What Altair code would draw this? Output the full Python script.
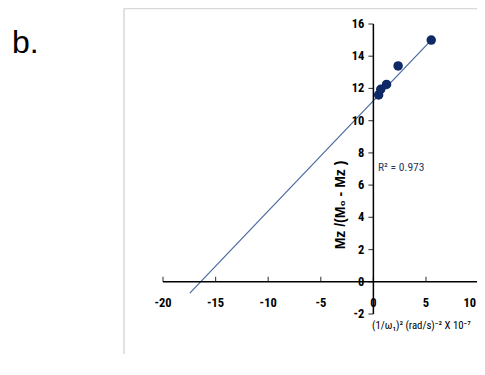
import altair as alt
import pandas as pd

# ---- data ----
pt_x = [0.5, 0.7, 1.25, 2.35, 5.5]
pt_y = [11.6, 11.95, 12.25, 13.4, 15.0]
fit_x = [-17.45, 5.5]
fit_y = [-0.7, 15.0]
x_ticks = [-20, -15, -10, -5, 0, 5, 10]
y_ticks = [-2, 0, 2, 4, 6, 8, 10, 12, 14, 16]
x_range = [-20, 10]
y_range = [-2, 16]
r2_text = "R² = 0.973"
x_title = "(1/ω₁)² (rad/s)⁻² X 10⁻⁷"
y_title = "Mz /(M₀ - Mz )"
panel_label = "b."

NARROW = "Liberation Sans Narrow, Arial Narrow, Roboto Condensed, sans-serif"
SANS = "Liberation Sans, Arial, sans-serif"

# the visible window ends just before x = 10 (the reference is cropped there)
xs = alt.Scale(domain=[x_range[0], 9.85], nice=False, zero=False)
ys = alt.Scale(domain=y_range, nice=False, zero=False)

pts = pd.DataFrame({"x": pt_x, "y": pt_y})
fit = pd.DataFrame({"x": fit_x, "y": fit_y})
xt = pd.DataFrame({"v": x_ticks, "z": [0] * len(x_ticks), "lab": [str(v) for v in x_ticks]})
yt = pd.DataFrame({"v": y_ticks, "z": [0] * len(y_ticks), "lab": [str(v) for v in y_ticks]})
one = pd.DataFrame({"a": [0]})
xaxis_df = pd.DataFrame({"x": [x_range[0]], "x2": [x_range[1]], "y": [0]})
yaxis_df = pd.DataFrame({"y": [y_range[0]], "y2": [y_range[1]], "x": [0]})

# decorative frame (light gray border of the embedded figure)
frame_top = alt.Chart(one).mark_rule(color="#d9d9d9", strokeWidth=1.5).encode(
    x=alt.value(-39), x2=alt.value(330), y=alt.value(-15.5))
frame_left = alt.Chart(one).mark_rule(color="#d9d9d9", strokeWidth=1.5).encode(
    x=alt.value(-39), y=alt.value(-15.5), y2=alt.value(340))

label_b = alt.Chart(one).mark_text(
    text=panel_label, font=SANS, fontSize=32, align="left", baseline="alphabetic",
    color="#000000").encode(x=alt.value(-151), y=alt.value(29))

# axes through the origin
x_line = alt.Chart(xaxis_df).mark_rule(color="#000000", strokeWidth=1.5).encode(
    x=alt.X("x:Q", scale=xs, axis=None), x2="x2:Q",
    y=alt.Y("y:Q", scale=ys, axis=None))
y_line = alt.Chart(yaxis_df).mark_rule(color="#000000", strokeWidth=1.5).encode(
    y=alt.Y("y:Q", scale=ys, axis=None), y2="y2:Q",
    x=alt.X("x:Q", scale=xs, axis=None))

x_tk = alt.Chart(xt).mark_tick(orient="vertical", size=5, thickness=1.2,
                               color="#000000", yOffset=-2.5).encode(
    x=alt.X("v:Q", scale=xs, axis=None), y=alt.Y("z:Q", scale=ys, axis=None))
y_tk = alt.Chart(yt).mark_tick(orient="horizontal", size=5, thickness=1.2,
                               color="#000000", xOffset=-2.5).encode(
    y=alt.Y("v:Q", scale=ys, axis=None), x=alt.X("z:Q", scale=xs, axis=None))

x_lab = alt.Chart(xt).transform_filter(alt.datum.v < x_range[1]).mark_text(
    font=NARROW, fontSize=12.5, fontWeight="bold", dy=21, baseline="middle",
    align="center", color="#000000").encode(
    x=alt.X("v:Q", scale=xs, axis=None), y=alt.Y("z:Q", scale=ys, axis=None),
    text="lab:N")
# last label sits at the cropped right edge: keep it inside the picture
x_lab_end = alt.Chart(xt).transform_filter(alt.datum.v >= x_range[1]).mark_text(
    font=NARROW, fontSize=12.5, fontWeight="bold", dy=21, dx=-2.5, baseline="middle",
    align="right", color="#000000").encode(
    x=alt.X("v:Q", scale=xs, axis=None), y=alt.Y("z:Q", scale=ys, axis=None),
    text="lab:N")
y_lab = alt.Chart(yt).mark_text(font=NARROW, fontSize=12.5, fontWeight="bold",
                                dx=-9, baseline="middle", align="right",
                                color="#000000").encode(
    y=alt.Y("v:Q", scale=ys, axis=None), x=alt.X("z:Q", scale=xs, axis=None),
    text="lab:N")

fit_line = alt.Chart(fit).mark_line(color="#4a68a0", strokeWidth=1.2).encode(
    x=alt.X("x:Q", scale=xs, axis=None), y=alt.Y("y:Q", scale=ys, axis=None))
points = alt.Chart(pts).mark_circle(size=90, color="#0d2a66", opacity=1).encode(
    x=alt.X("x:Q", scale=xs, axis=None), y=alt.Y("y:Q", scale=ys, axis=None))

r2 = alt.Chart(one).mark_text(text=r2_text, font=NARROW, fontSize=11.5,
                              align="left", baseline="middle",
                              color="#1f3864").encode(
    x=alt.value(215), y=alt.value(144))
xttl = alt.Chart(one).mark_text(text=x_title, font=NARROW, fontSize=10.8,
                                align="left", baseline="middle",
                                color="#000000").encode(
    x=alt.value(209), y=alt.value(302))
yttl = alt.Chart(one).mark_text(text=y_title, font=SANS, fontSize=14,
                                fontWeight="bold", angle=270, align="center",
                                baseline="middle", color="#000000").encode(
    x=alt.value(178), y=alt.value(181))

chart = alt.layer(
    frame_top, frame_left, label_b,
    fit_line, x_line, y_line, x_tk, y_tk, x_lab, x_lab_end, y_lab,
    points, r2, xttl, yttl,
).properties(
    width=314, height=290,
    autosize=alt.AutoSizeParams(type="none"),
    padding={"left": 155, "top": 16, "right": 0, "bottom": 40},
    background="#ffffff",
).configure_view(stroke=None)

chart.save("out.html", embed_options={"renderer": "svg", "actions": False})
